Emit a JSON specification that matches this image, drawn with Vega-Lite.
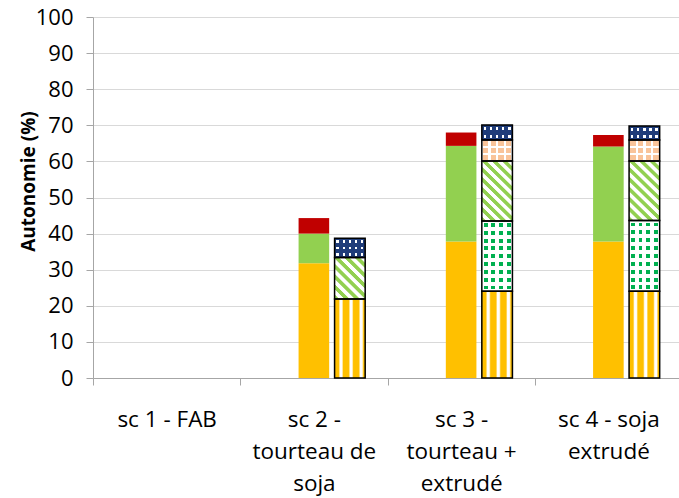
{
  "$schema": "https://vega.github.io/schema/vega-lite/v6.json",
  "width": 589,
  "height": 361,
  "autosize": {"type": "none"},
  "padding": {"left": 93, "top": 17, "right": 0, "bottom": 120},
  "background": "#ffffff",
  "config": {"view": {"stroke": null}},
  "data": {
    "values": [
      {"cat": "sc 2 -|tourteau de|soja", "type": "solid", "seg": "so", "lo": 0, "hi": 31.8},
      {"cat": "sc 2 -|tourteau de|soja", "type": "solid", "seg": "sg", "lo": 31.8, "hi": 40.0},
      {"cat": "sc 2 -|tourteau de|soja", "type": "solid", "seg": "sr", "lo": 40.0, "hi": 44.3},
      {"cat": "sc 2 -|tourteau de|soja", "type": "pattern", "seg": "yel", "lo": 0, "hi": 21.9},
      {"cat": "sc 2 -|tourteau de|soja", "type": "pattern", "seg": "diag", "lo": 21.9, "hi": 33.4},
      {"cat": "sc 2 -|tourteau de|soja", "type": "pattern", "seg": "blue", "lo": 33.4, "hi": 38.7},
      {"cat": "sc 3 -|tourteau +|extrudé", "type": "solid", "seg": "so", "lo": 0, "hi": 37.8},
      {"cat": "sc 3 -|tourteau +|extrudé", "type": "solid", "seg": "sg", "lo": 37.8, "hi": 64.3},
      {"cat": "sc 3 -|tourteau +|extrudé", "type": "solid", "seg": "sr", "lo": 64.3, "hi": 68.0},
      {"cat": "sc 3 -|tourteau +|extrudé", "type": "pattern", "seg": "yel", "lo": 0, "hi": 24.0},
      {"cat": "sc 3 -|tourteau +|extrudé", "type": "pattern", "seg": "gdot", "lo": 24.0, "hi": 43.5},
      {"cat": "sc 3 -|tourteau +|extrudé", "type": "pattern", "seg": "diag", "lo": 43.5, "hi": 60.1},
      {"cat": "sc 3 -|tourteau +|extrudé", "type": "pattern", "seg": "check", "lo": 60.1, "hi": 65.9},
      {"cat": "sc 3 -|tourteau +|extrudé", "type": "pattern", "seg": "blue", "lo": 65.9, "hi": 70.1},
      {"cat": "sc 4 - soja|extrudé", "type": "solid", "seg": "so", "lo": 0, "hi": 37.8},
      {"cat": "sc 4 - soja|extrudé", "type": "solid", "seg": "sg", "lo": 37.8, "hi": 64.1},
      {"cat": "sc 4 - soja|extrudé", "type": "solid", "seg": "sr", "lo": 64.1, "hi": 67.3},
      {"cat": "sc 4 - soja|extrudé", "type": "pattern", "seg": "yel", "lo": 0, "hi": 24.0},
      {"cat": "sc 4 - soja|extrudé", "type": "pattern", "seg": "gdot", "lo": 24.0, "hi": 43.6},
      {"cat": "sc 4 - soja|extrudé", "type": "pattern", "seg": "diag", "lo": 43.6, "hi": 60.1},
      {"cat": "sc 4 - soja|extrudé", "type": "pattern", "seg": "check", "lo": 60.1, "hi": 65.9},
      {"cat": "sc 4 - soja|extrudé", "type": "pattern", "seg": "blue", "lo": 65.9, "hi": 69.8}
    ]
  },
  "encoding": {
    "x": {
      "field": "cat", "type": "nominal", "sort": null,
      "scale": {"domain": ["sc 1 - FAB", "sc 2 -|tourteau de|soja", "sc 3 -|tourteau +|extrudé", "sc 4 - soja|extrudé"], "paddingInner": 0, "paddingOuter": 0},
      "axis": {
        "title": null, "labelExpr": "split(datum.label, '|')", "labelAngle": 0,
        "labelFont": "Open Sans", "labelFontSize": 22.5, "labelColor": "#000000",
        "labelPadding": 23, "labelLineHeight": 32, "labelBaseline": "top",
        "labelOverlap": false, "labelBound": false, "labelLimit": 0,
        "tickSize": 7, "tickBand": "extent", "grid": false,
        "domainColor": "#a6a6a6", "tickColor": "#a6a6a6", "domainWidth": 1, "tickWidth": 1
      }
    },
    "xOffset": {
      "field": "type", "type": "nominal",
      "scale": {"domain": ["blank", "solid", "pattern"], "paddingInner": 0.15, "paddingOuter": 0.62}
    },
    "y": {
      "field": "hi", "type": "quantitative",
      "scale": {"domain": [0, 100], "nice": false},
      "axis": {
        "values": [0, 10, 20, 30, 40, 50, 60, 70, 80, 90, 100],
        "labelFont": "Open Sans", "labelFontSize": 22, "labelColor": "#000000",
        "labelPadding": 13, "tickSize": 7,
        "grid": true, "gridColor": "#d9d9d9", "gridWidth": 1,
        "domainColor": "#a6a6a6", "tickColor": "#a6a6a6",
        "title": "Autonomie (%)", "titleFont": "Open Sans", "titleFontSize": 19,
        "titleFontWeight": "bold", "titleColor": "#000000",
        "titleAngle": -90, "titleX": -59, "titleY": 164,
        "titleAlign": "center", "titleBaseline": "alphabetic"
      }
    },
    "y2": {"field": "lo"}
  },
  "layer": [
    {
      "mark": {"type": "bar"},
      "encoding": {
        "fill": {
          "field": "seg", "type": "nominal", "legend": null,
          "scale": {
            "domain": ["so", "sg", "sr", "yel", "gdot", "diag", "check", "blue"],
            "range": ["#ffc000", "#92d050", "#c00000", "#ffc000", "#00b050", "#ffffff", "#f9c49a", "#ffffff"]
          }
        }
      }
    },
    {
      "transform": [{"filter": "datum.seg == 'yel'"}],
      "mark": {
        "type": "bar",
        "fill": {"gradient": "linear", "x1": 0, "y1": 0, "x2": 1, "y2": 0, "stops": [
          {"offset": 0, "color": "#ffc000"}, {"offset": 0.13, "color": "#ffc000"}, {"offset": 0.18, "color": "#ffffff"}, {"offset": 0.24, "color": "#ffffff"}, {"offset": 0.29, "color": "#ffc000"},
          {"offset": 0.46, "color": "#ffc000"}, {"offset": 0.51, "color": "#ffffff"}, {"offset": 0.57, "color": "#ffffff"}, {"offset": 0.62, "color": "#ffc000"},
          {"offset": 0.79, "color": "#ffc000"}, {"offset": 0.84, "color": "#ffffff"}, {"offset": 0.9, "color": "#ffffff"}, {"offset": 0.95, "color": "#ffc000"}, {"offset": 1, "color": "#ffc000"}
        ]}
      }
    },
    {
      "transform": [{"filter": "datum.seg == 'diag'"}],
      "mark": {"type": "bar"},
      "encoding": {
        "fill": {
          "condition": {
            "test": "datum.lo < 30",
            "value": {"gradient": "linear", "x1": 0, "y1": 1, "x2": 0.824, "y2": -0.129, "stops": [
              {"offset": 0, "color": "#92d050"}, {"offset": 0.057, "color": "#92d050"}, {"offset": 0.071, "color": "#ffffff"}, {"offset": 0.129, "color": "#ffffff"},
              {"offset": 0.143, "color": "#92d050"}, {"offset": 0.2, "color": "#92d050"}, {"offset": 0.214, "color": "#ffffff"}, {"offset": 0.271, "color": "#ffffff"},
              {"offset": 0.286, "color": "#92d050"}, {"offset": 0.343, "color": "#92d050"}, {"offset": 0.357, "color": "#ffffff"}, {"offset": 0.414, "color": "#ffffff"},
              {"offset": 0.429, "color": "#92d050"}, {"offset": 0.486, "color": "#92d050"}, {"offset": 0.5, "color": "#ffffff"}, {"offset": 0.557, "color": "#ffffff"},
              {"offset": 0.571, "color": "#92d050"}, {"offset": 0.629, "color": "#92d050"}, {"offset": 0.643, "color": "#ffffff"}, {"offset": 0.7, "color": "#ffffff"},
              {"offset": 0.714, "color": "#92d050"}, {"offset": 0.771, "color": "#92d050"}, {"offset": 0.786, "color": "#ffffff"}, {"offset": 0.843, "color": "#ffffff"},
              {"offset": 0.857, "color": "#92d050"}, {"offset": 0.914, "color": "#92d050"}, {"offset": 0.929, "color": "#ffffff"}, {"offset": 0.986, "color": "#ffffff"},
              {"offset": 1, "color": "#92d050"}
            ]}
          },
          "value": {"gradient": "linear", "x1": 0, "y1": 1, "x2": 0.6, "y2": -0.2, "stops": [
            {"offset": 0, "color": "#92d050"}, {"offset": 0.044, "color": "#92d050"}, {"offset": 0.056, "color": "#ffffff"}, {"offset": 0.1, "color": "#ffffff"},
            {"offset": 0.111, "color": "#92d050"}, {"offset": 0.156, "color": "#92d050"}, {"offset": 0.167, "color": "#ffffff"}, {"offset": 0.211, "color": "#ffffff"},
            {"offset": 0.222, "color": "#92d050"}, {"offset": 0.267, "color": "#92d050"}, {"offset": 0.278, "color": "#ffffff"}, {"offset": 0.322, "color": "#ffffff"},
            {"offset": 0.333, "color": "#92d050"}, {"offset": 0.378, "color": "#92d050"}, {"offset": 0.389, "color": "#ffffff"}, {"offset": 0.433, "color": "#ffffff"},
            {"offset": 0.444, "color": "#92d050"}, {"offset": 0.489, "color": "#92d050"}, {"offset": 0.5, "color": "#ffffff"}, {"offset": 0.544, "color": "#ffffff"},
            {"offset": 0.556, "color": "#92d050"}, {"offset": 0.6, "color": "#92d050"}, {"offset": 0.611, "color": "#ffffff"}, {"offset": 0.656, "color": "#ffffff"},
            {"offset": 0.667, "color": "#92d050"}, {"offset": 0.711, "color": "#92d050"}, {"offset": 0.722, "color": "#ffffff"}, {"offset": 0.767, "color": "#ffffff"},
            {"offset": 0.778, "color": "#92d050"}, {"offset": 0.822, "color": "#92d050"}, {"offset": 0.833, "color": "#ffffff"}, {"offset": 0.878, "color": "#ffffff"},
            {"offset": 0.889, "color": "#92d050"}, {"offset": 0.933, "color": "#92d050"}, {"offset": 0.944, "color": "#ffffff"}, {"offset": 0.989, "color": "#ffffff"},
            {"offset": 1, "color": "#92d050"}
          ]}
        }
      }
    },
    {
      "transform": [{"filter": "datum.seg == 'gdot'"}],
      "mark": {
        "type": "bar",
        "fill": {"gradient": "linear", "x1": 0, "y1": 0, "x2": 1, "y2": 0, "stops": [
          {"offset": 0, "color": "#ffffff"}, {"offset": 0.0625, "color": "#ffffff"}, {"offset": 0.0625, "color": "rgba(255,255,255,0)"}, {"offset": 0.1875, "color": "rgba(255,255,255,0)"}, {"offset": 0.1875, "color": "#ffffff"},
          {"offset": 0.3125, "color": "#ffffff"}, {"offset": 0.3125, "color": "rgba(255,255,255,0)"}, {"offset": 0.4375, "color": "rgba(255,255,255,0)"}, {"offset": 0.4375, "color": "#ffffff"},
          {"offset": 0.5625, "color": "#ffffff"}, {"offset": 0.5625, "color": "rgba(255,255,255,0)"}, {"offset": 0.6875, "color": "rgba(255,255,255,0)"}, {"offset": 0.6875, "color": "#ffffff"},
          {"offset": 0.8125, "color": "#ffffff"}, {"offset": 0.8125, "color": "rgba(255,255,255,0)"}, {"offset": 0.9375, "color": "rgba(255,255,255,0)"}, {"offset": 0.9375, "color": "#ffffff"},
          {"offset": 1, "color": "#ffffff"}
        ]}
      }
    },
    {
      "transform": [{"filter": "datum.seg == 'gdot'"}],
      "mark": {
        "type": "bar",
        "fill": {"gradient": "linear", "x1": 0, "y1": 0, "x2": 0, "y2": 1, "stops": [
          {"offset": 0, "color": "#ffffff"}, {"offset": 0.028, "color": "#ffffff"}, {"offset": 0.028, "color": "rgba(255,255,255,0)"}, {"offset": 0.083, "color": "rgba(255,255,255,0)"}, {"offset": 0.083, "color": "#ffffff"},
          {"offset": 0.139, "color": "#ffffff"}, {"offset": 0.139, "color": "rgba(255,255,255,0)"}, {"offset": 0.194, "color": "rgba(255,255,255,0)"}, {"offset": 0.194, "color": "#ffffff"},
          {"offset": 0.25, "color": "#ffffff"}, {"offset": 0.25, "color": "rgba(255,255,255,0)"}, {"offset": 0.306, "color": "rgba(255,255,255,0)"}, {"offset": 0.306, "color": "#ffffff"},
          {"offset": 0.361, "color": "#ffffff"}, {"offset": 0.361, "color": "rgba(255,255,255,0)"}, {"offset": 0.417, "color": "rgba(255,255,255,0)"}, {"offset": 0.417, "color": "#ffffff"},
          {"offset": 0.472, "color": "#ffffff"}, {"offset": 0.472, "color": "rgba(255,255,255,0)"}, {"offset": 0.528, "color": "rgba(255,255,255,0)"}, {"offset": 0.528, "color": "#ffffff"},
          {"offset": 0.583, "color": "#ffffff"}, {"offset": 0.583, "color": "rgba(255,255,255,0)"}, {"offset": 0.639, "color": "rgba(255,255,255,0)"}, {"offset": 0.639, "color": "#ffffff"},
          {"offset": 0.694, "color": "#ffffff"}, {"offset": 0.694, "color": "rgba(255,255,255,0)"}, {"offset": 0.75, "color": "rgba(255,255,255,0)"}, {"offset": 0.75, "color": "#ffffff"},
          {"offset": 0.806, "color": "#ffffff"}, {"offset": 0.806, "color": "rgba(255,255,255,0)"}, {"offset": 0.861, "color": "rgba(255,255,255,0)"}, {"offset": 0.861, "color": "#ffffff"},
          {"offset": 0.917, "color": "#ffffff"}, {"offset": 0.917, "color": "rgba(255,255,255,0)"}, {"offset": 0.972, "color": "rgba(255,255,255,0)"}, {"offset": 0.972, "color": "#ffffff"},
          {"offset": 1, "color": "#ffffff"}
        ]}
      }
    },
    {
      "transform": [{"filter": "datum.seg == 'check'"}],
      "mark": {
        "type": "bar",
        "fill": {"gradient": "linear", "x1": 0, "y1": 0, "x2": 1, "y2": 0, "stops": [
          {"offset": 0, "color": "#ffffff"}, {"offset": 0.0375, "color": "#ffffff"}, {"offset": 0.0375, "color": "rgba(255,255,255,0)"}, {"offset": 0.2125, "color": "rgba(255,255,255,0)"}, {"offset": 0.2125, "color": "#ffffff"},
          {"offset": 0.2875, "color": "#ffffff"}, {"offset": 0.2875, "color": "rgba(255,255,255,0)"}, {"offset": 0.4625, "color": "rgba(255,255,255,0)"}, {"offset": 0.4625, "color": "#ffffff"},
          {"offset": 0.5375, "color": "#ffffff"}, {"offset": 0.5375, "color": "rgba(255,255,255,0)"}, {"offset": 0.7125, "color": "rgba(255,255,255,0)"}, {"offset": 0.7125, "color": "#ffffff"},
          {"offset": 0.7875, "color": "#ffffff"}, {"offset": 0.7875, "color": "rgba(255,255,255,0)"}, {"offset": 0.9625, "color": "rgba(255,255,255,0)"}, {"offset": 0.9625, "color": "#ffffff"},
          {"offset": 1, "color": "#ffffff"}
        ]}
      }
    },
    {
      "transform": [{"filter": "datum.seg == 'check'"}],
      "mark": {
        "type": "bar",
        "fill": {"gradient": "linear", "x1": 0, "y1": 0, "x2": 0, "y2": 1, "stops": [
          {"offset": 0, "color": "#ffffff"}, {"offset": 0.05, "color": "#ffffff"}, {"offset": 0.05, "color": "rgba(255,255,255,0)"}, {"offset": 0.283, "color": "rgba(255,255,255,0)"}, {"offset": 0.283, "color": "#ffffff"},
          {"offset": 0.383, "color": "#ffffff"}, {"offset": 0.383, "color": "rgba(255,255,255,0)"}, {"offset": 0.617, "color": "rgba(255,255,255,0)"}, {"offset": 0.617, "color": "#ffffff"},
          {"offset": 0.717, "color": "#ffffff"}, {"offset": 0.717, "color": "rgba(255,255,255,0)"}, {"offset": 0.95, "color": "rgba(255,255,255,0)"}, {"offset": 0.95, "color": "#ffffff"},
          {"offset": 1, "color": "#ffffff"}
        ]}
      }
    },
    {
      "transform": [{"filter": "datum.seg == 'blue'"}],
      "mark": {
        "type": "bar",
        "fill": {"gradient": "linear", "x1": 0, "y1": 0, "x2": 1, "y2": 0, "stops": [
          {"offset": 0, "color": "#1f3c7a"}, {"offset": 0.06, "color": "#1f3c7a"}, {"offset": 0.06, "color": "rgba(31,60,122,0)"}, {"offset": 0.14, "color": "rgba(31,60,122,0)"}, {"offset": 0.14, "color": "#1f3c7a"},
          {"offset": 0.26, "color": "#1f3c7a"}, {"offset": 0.26, "color": "rgba(31,60,122,0)"}, {"offset": 0.34, "color": "rgba(31,60,122,0)"}, {"offset": 0.34, "color": "#1f3c7a"},
          {"offset": 0.46, "color": "#1f3c7a"}, {"offset": 0.46, "color": "rgba(31,60,122,0)"}, {"offset": 0.54, "color": "rgba(31,60,122,0)"}, {"offset": 0.54, "color": "#1f3c7a"},
          {"offset": 0.66, "color": "#1f3c7a"}, {"offset": 0.66, "color": "rgba(31,60,122,0)"}, {"offset": 0.74, "color": "rgba(31,60,122,0)"}, {"offset": 0.74, "color": "#1f3c7a"},
          {"offset": 0.86, "color": "#1f3c7a"}, {"offset": 0.86, "color": "rgba(31,60,122,0)"}, {"offset": 0.94, "color": "rgba(31,60,122,0)"}, {"offset": 0.94, "color": "#1f3c7a"},
          {"offset": 1, "color": "#1f3c7a"}
        ]}
      }
    },
    {
      "transform": [{"filter": "datum.seg == 'blue'"}],
      "mark": {"type": "bar"},
      "encoding": {
        "fill": {
          "condition": {
            "test": "datum.lo < 40",
            "value": {"gradient": "linear", "x1": 0, "y1": 0, "x2": 0, "y2": 1, "stops": [
              {"offset": 0, "color": "#1f3c7a"}, {"offset": 0.1, "color": "#1f3c7a"}, {"offset": 0.1, "color": "rgba(31,60,122,0)"}, {"offset": 0.233, "color": "rgba(31,60,122,0)"}, {"offset": 0.233, "color": "#1f3c7a"},
              {"offset": 0.433, "color": "#1f3c7a"}, {"offset": 0.433, "color": "rgba(31,60,122,0)"}, {"offset": 0.567, "color": "rgba(31,60,122,0)"}, {"offset": 0.567, "color": "#1f3c7a"},
              {"offset": 0.767, "color": "#1f3c7a"}, {"offset": 0.767, "color": "rgba(31,60,122,0)"}, {"offset": 0.9, "color": "rgba(31,60,122,0)"}, {"offset": 0.9, "color": "#1f3c7a"},
              {"offset": 1, "color": "#1f3c7a"}
            ]}
          },
          "value": {"gradient": "linear", "x1": 0, "y1": 0, "x2": 0, "y2": 1, "stops": [
            {"offset": 0, "color": "#1f3c7a"}, {"offset": 0.15, "color": "#1f3c7a"}, {"offset": 0.15, "color": "rgba(31,60,122,0)"}, {"offset": 0.35, "color": "rgba(31,60,122,0)"}, {"offset": 0.35, "color": "#1f3c7a"},
            {"offset": 0.65, "color": "#1f3c7a"}, {"offset": 0.65, "color": "rgba(31,60,122,0)"}, {"offset": 0.85, "color": "rgba(31,60,122,0)"}, {"offset": 0.85, "color": "#1f3c7a"},
            {"offset": 1, "color": "#1f3c7a"}
          ]}
        }
      }
    },
    {
      "transform": [{"filter": "datum.type == 'pattern'"}],
      "mark": {"type": "bar", "fillOpacity": 0, "stroke": "#000000", "strokeWidth": 1.5}
    }
  ]
}
